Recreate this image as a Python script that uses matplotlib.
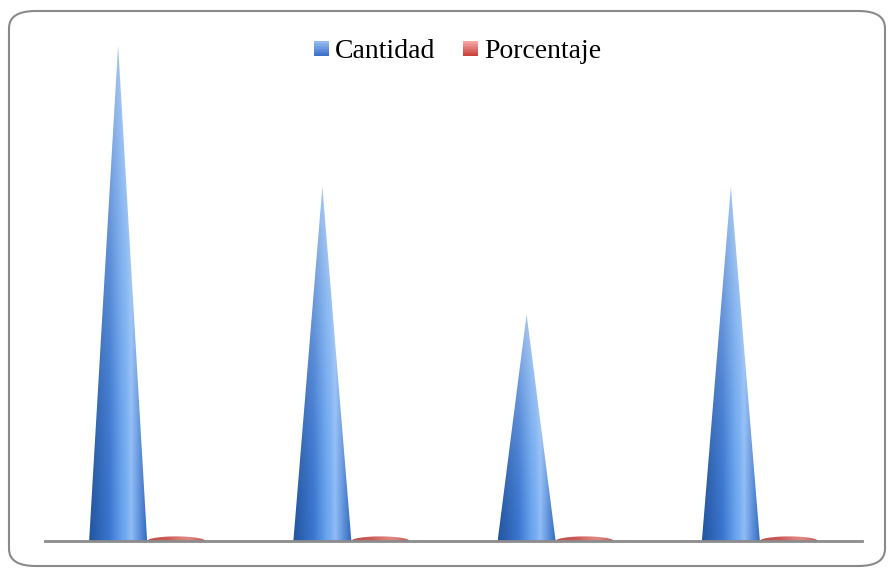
import matplotlib.pyplot as plt
import numpy as np
from matplotlib.patches import FancyBboxPatch, Patch, Polygon, Rectangle
from matplotlib.legend_handler import HandlerBase
from matplotlib.colors import LinearSegmentedColormap

plt.rcParams["font.family"] = ["Liberation Serif", "DejaVu Serif"]

# Data
categorias = ["Cat 1", "Cat 2", "Cat 3", "Cat 4"]
cantidad = [140, 100, 64, 100]
porcentaje = [0.35, 0.25, 0.16, 0.25]

series = [
    ("Cantidad", cantidad, ["#24559f", "#3a76cf", "#6aa5ee", "#8fbcf5", "#3068c0"]),
    ("Porcentaje", porcentaje, ["#c04f4c", "#cc5b58", "#dc7c78", "#e08682", "#c65250"]),
]
legend_colors = [("#93bbf2", "#3a6fc6"), ("#f4a5a2", "#c8403c")]

cone_width = 0.284
offsets = [-0.142, 0.142]
base_depth = 1.3  # half-height of the elliptical cone base, in data units


def hull(points):
    pts = sorted(map(tuple, points))

    def cross(o, a, b):
        return (a[0] - o[0]) * (b[1] - o[1]) - (a[1] - o[1]) * (b[0] - o[0])

    lower, upper = [], []
    for p in pts:
        while len(lower) >= 2 and cross(lower[-2], lower[-1], p) <= 0:
            lower.pop()
        lower.append(p)
    for p in reversed(pts):
        while len(upper) >= 2 and cross(upper[-2], upper[-1], p) <= 0:
            upper.pop()
        upper.append(p)
    return np.array(lower[:-1] + upper[:-1])


def draw_cone(ax, xc, h, colors):
    x0, x1 = xc - cone_width / 2, xc + cone_width / 2
    top = max(h, base_depth)
    # horizontal shading that lightens toward the tip (tall cones only)
    nx, ny = 120, 200
    u = np.linspace(0, 1, nx)
    v = np.linspace(0, 1, ny)[:, None]
    cmap = LinearSegmentedColormap.from_list("c", colors)
    pos = np.interp(u, [0, 0.35, 0.62, 0.72, 1.0], [0, 0.25, 0.55, 0.75, 1.0])
    rgb = cmap(pos)[None, :, :3].repeat(ny, axis=0)
    lift = (v ** 1.6 * 0.45 * min(1.0, h / 10))[:, :, None]
    rgb = rgb * (1 - lift) + lift
    im = ax.imshow(rgb, extent=(x0, x1, 0, top), origin="lower",
                   aspect="auto", interpolation="bilinear", zorder=2)
    # silhouette: base ellipse plus apex, cut at the floor
    t = np.linspace(0, 2 * np.pi, 90, endpoint=False)
    ellipse = np.column_stack([xc + cone_width / 2 * np.cos(t), base_depth * np.sin(t)])
    outline = hull(np.vstack([ellipse, [[xc, h]]]))
    clip = Polygon(outline, closed=True, transform=ax.transData)
    im.set_clip_path(clip)


class GradientSquare(HandlerBase):
    def __init__(self, top, bottom):
        super().__init__()
        self.cmap = LinearSegmentedColormap.from_list("g", [bottom, top])

    def create_artists(self, legend, orig_handle, xdescent, ydescent,
                       width, height, fontsize, trans):
        n = 10
        side = min(width, height) + 1
        x = -xdescent + (width - side) / 2
        y = -ydescent + (height - side) / 2
        out = []
        for k in range(n):
            out.append(Rectangle((x, y + side * k / n), side, side / n + 0.2,
                                 facecolor=self.cmap(k / (n - 1)),
                                 edgecolor="none", transform=trans))
        return out


fig = plt.figure(figsize=(8.89, 5.71), dpi=100)

frame = FancyBboxPatch((9 / 889, 5 / 571), 876 / 889, 555 / 571,
                       boxstyle="round,pad=0,rounding_size=0.03",
                       transform=fig.transFigure, facecolor="none",
                       edgecolor="#8a8a8a", linewidth=1.5, zorder=-1)
fig.patches.append(frame)

ax = fig.add_axes([45 / 889, 30 / 571, 817 / 889, 496 / 571])
ax.set_facecolor("none")

for s, (name, vals, colors) in enumerate(series):
    for i, val in enumerate(vals):
        draw_cone(ax, i + 0.5 + offsets[s], val, colors)

ax.set_xlim(0, len(categorias))
ax.set_ylim(0, max(cantidad))
ax.axhline(0, color="#8c8c8c", linewidth=2, zorder=3, clip_on=False)
for sp in ax.spines.values():
    sp.set_visible(False)
ax.set_xticks([])
ax.set_yticks([])

handles = [Patch(facecolor=c[1]) for c in legend_colors]
fig.legend(handles, [s[0] for s in series], loc="center",
           bbox_to_anchor=(458 / 889, 1 - 52 / 571), ncol=2, frameon=False,
           fontsize=20, handlelength=0.5, handleheight=0.5,
           handletextpad=0.25, columnspacing=1.0,
           handler_map={handles[0]: GradientSquare(*legend_colors[0]),
                        handles[1]: GradientSquare(*legend_colors[1])})

fig.savefig("out.png", dpi=100)
